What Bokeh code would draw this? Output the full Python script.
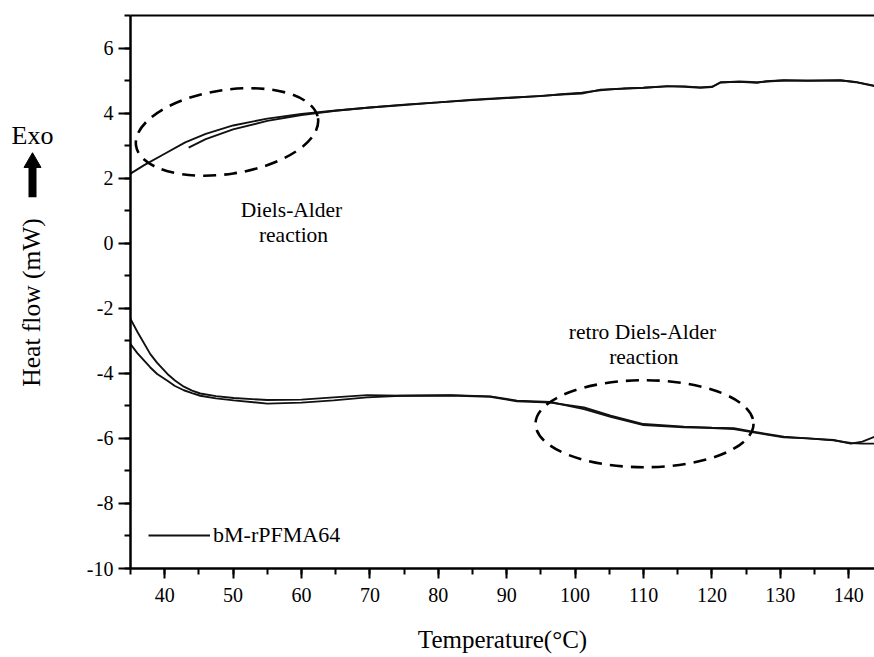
from bokeh.plotting import figure
from bokeh.models import (Range1d, LinearAxis, SingleIntervalTicker, FixedTicker, Label,
                          Legend, LegendItem, PrintfTickFormatter)
from bokeh.layouts import row
from bokeh.core.properties import value
from bokeh.embed import file_html
from bokeh.resources import INLINE
import math

# ---------------- data ----------------
top_a_x = [35, 37, 40, 43, 46, 50, 55, 60, 65, 70, 75, 80, 85, 90, 95, 98, 101, 103.7,
           107, 110, 113.5, 116, 118.3, 120, 121.3, 124, 126.6, 128, 130.5, 134, 138.8, 141, 143.8]
top_a_y = [2.14, 2.4, 2.75, 3.1, 3.36, 3.62, 3.83, 3.97, 4.08, 4.17, 4.25, 4.33, 4.4, 4.46, 4.53,
           4.57, 4.6, 4.72, 4.75, 4.78, 4.83, 4.81, 4.78, 4.8, 4.95, 4.96, 4.93, 4.98, 5.01, 4.99,
           5.01, 4.95, 4.83]

top_b_x = [43.5, 46, 50, 55, 60, 65, 70, 75, 80, 85, 90, 95, 98, 101, 103.7,
           107, 110, 113.5, 116, 118.3, 120, 121.3, 124, 126.6, 128, 130.5, 134, 138.8, 141, 143.8]
top_b_y = [2.94, 3.2, 3.5, 3.76, 3.94, 4.07, 4.17, 4.26, 4.33, 4.41, 4.47, 4.52,
           4.58, 4.63, 4.7, 4.76, 4.78, 4.82, 4.82, 4.79, 4.81, 4.94, 4.97, 4.95, 4.97, 5.0, 5.0,
           5.0, 4.96, 4.84]

bot_a_x = [35, 36, 37.9, 38.9, 40.4, 41.5, 42.8, 44, 45.2, 47.5, 50.1, 55, 60, 64.7, 69.6, 74.5,
           81.8, 87.6, 91.5, 96.4, 101.3, 105.2, 110, 115.9, 120, 123.2, 125.6, 130.5, 134,
           137.8, 140.3, 142, 143.8]
bot_a_y = [-2.33, -2.72, -3.41, -3.68, -4.02, -4.22, -4.41, -4.53, -4.62, -4.7, -4.76, -4.82,
           -4.81, -4.74, -4.67, -4.69, -4.67, -4.71, -4.84, -4.88, -5.1, -5.34, -5.59, -5.66,
           -5.68, -5.71, -5.8, -5.97, -6.0, -6.05, -6.16, -6.1, -5.95]

bot_b_x = [35, 36, 37.9, 38.9, 40.4, 41.5, 42.8, 44, 45.2, 47.5, 50.1, 55, 60, 64.7, 69.6, 74.5,
           81.8, 87.6, 91.5, 96.4, 101.3, 105.2, 110, 115.9, 120, 123.2, 125.6, 130.5, 134,
           137.8, 140.3, 142, 143.8]
bot_b_y = [-3.1, -3.38, -3.82, -4.02, -4.23, -4.39, -4.52, -4.61, -4.69, -4.77, -4.83, -4.93,
           -4.9, -4.83, -4.74, -4.69, -4.68, -4.72, -4.86, -4.9, -5.05, -5.3, -5.56, -5.64,
           -5.67, -5.69, -5.78, -5.95, -6.0, -6.06, -6.14, -6.16, -6.16]

x_ticks_interval = 10
y_ticks_interval = 2
series_label = "bM-rPFMA64"
x_title = "Temperature(°C)"
y_title = "Heat flow (mW)"
exo_text = "Exo"

FONT = "Liberation Serif"

y_range = Range1d(-10, 7)

# ---------------- left strip (y title, Exo arrow) ----------------
side = figure(width=60, height=657, output_backend="svg", toolbar_location=None,
              x_range=Range1d(0, 60), y_range=y_range,
              min_border_left=0, min_border_right=0, min_border_top=15, min_border_bottom=89)
side.axis.visible = False
side.grid.visible = False
side.outline_line_color = None
side.text(x=[32], y=[3.31], text=[exo_text], text_font=value(FONT), text_font_size="26px",
          text_align="center", text_baseline="middle", text_color="black")
side.text(x=[31], y=[-1.82], text=[y_title], text_font=value(FONT), text_font_size="25.5px",
          text_align="center", text_baseline="middle", text_color="black", angle=math.pi / 2)
side.segment(x0=[32], y0=[1.41], x1=[32], y1=[2.39], line_width=8, line_color="black")
side.scatter(x=[32], y=[2.48], marker="triangle", size=17, fill_color="black",
             line_color="black", line_width=1)

# ---------------- main plot ----------------
p = figure(width=814, height=657, output_backend="svg", toolbar_location=None,
           x_range=Range1d(35, 143.77), y_range=y_range,
           min_border_left=70, min_border_right=0, min_border_top=15, min_border_bottom=89)
p.xaxis.visible = False
p.yaxis.visible = False
p.grid.visible = False
p.outline_line_color = None


def style_axis(ax, standoff, tick_out):
    ax.axis_line_width = 2.5
    ax.axis_line_color = "black"
    ax.major_tick_line_width = 2
    ax.minor_tick_line_width = 2
    ax.major_tick_in = 0
    ax.major_tick_out = tick_out
    ax.minor_tick_in = 0
    ax.minor_tick_out = 6
    ax.major_label_text_font = FONT
    ax.major_label_text_font_size = "20px"
    ax.major_label_text_color = "black"
    ax.major_label_standoff = standoff
    ax.formatter = PrintfTickFormatter(format="%d")


xax = LinearAxis(ticker=SingleIntervalTicker(interval=x_ticks_interval, num_minor_ticks=2))
style_axis(xax, 9, 10)
xax.axis_label = x_title
xax.axis_label_text_font = FONT
xax.axis_label_text_font_size = "25px"
xax.axis_label_text_font_style = "normal"
xax.axis_label_text_color = "black"
xax.axis_label_standoff = 21
p.add_layout(xax, "below")

yax = LinearAxis(ticker=SingleIntervalTicker(interval=y_ticks_interval, num_minor_ticks=2))
style_axis(yax, 5, 12)
p.add_layout(yax, "left")

top = LinearAxis(ticker=FixedTicker(ticks=[]))
top.axis_line_width = 2
top.major_tick_out = 0
top.minor_tick_out = 0
top.major_label_text_font_size = "0px"
top.major_label_standoff = 0
p.add_layout(top, "above")

lc = "#111111"
lw = 1.9
r1 = p.line(top_a_x, top_a_y, line_color=lc, line_width=lw)
p.line(top_b_x, top_b_y, line_color=lc, line_width=lw)
p.line(bot_a_x, bot_a_y, line_color=lc, line_width=lw)
p.line(bot_b_x, bot_b_y, line_color=lc, line_width=lw)

# dashed ellipses
p.ellipse(x=[49.11], y=[3.42], width=[184], height=[84], angle=[0.15],
          width_units="screen", height_units="screen",
          fill_color=None, line_color="black", line_width=2.6, line_dash="13 8")
p.ellipse(x=[110.15], y=[-5.55], width=[218], height=[87], angle=[0],
          width_units="screen", height_units="screen",
          fill_color=None, line_color="black", line_width=2.6, line_dash="13 8")


def lab(x, y, text, size):
    p.add_layout(Label(x=x, y=y, text=text, text_font=FONT, text_font_size=size,
                       text_align="center", text_baseline="middle", text_color="black"))


lab(58.54, 1.006, "Diels-Alder", "21.5px")
lab(58.83, 0.237, "reaction", "21.5px")
lab(109.85, -2.74, "retro Diels-Alder", "21.5px")
lab(110.04, -3.51, "reaction", "21.5px")

legend = Legend(items=[LegendItem(label=series_label, renderers=[r1])],
                location=(18, 20), glyph_width=62, glyph_height=22, label_height=22,
                label_standoff=3, padding=0, margin=0, spacing=0,
                border_line_color=None, background_fill_alpha=0,
                label_text_font=FONT, label_text_font_size="22px", label_text_color="black")
p.add_layout(legend, "center")

layout = row(side, p, spacing=0)
open("out.html", "w").write(file_html(layout, INLINE))
